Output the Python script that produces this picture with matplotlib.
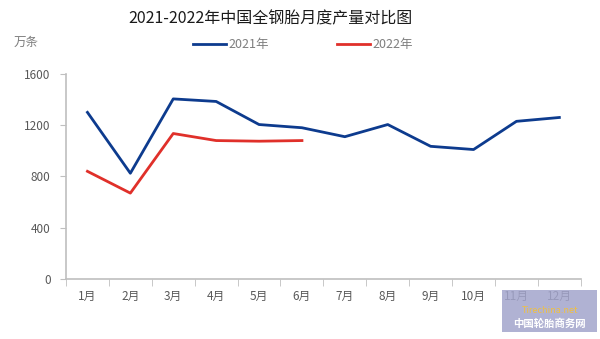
import matplotlib.pyplot as plt
from matplotlib.patches import Rectangle

plt.rcParams['font.family'] = ['Noto Sans CJK SC', 'DejaVu Sans']

months = ['1月', '2月', '3月', '4月', '5月', '6月', '7月', '8月', '9月', '10月', '11月', '12月']
prod_2021 = [1300, 825, 1405, 1385, 1205, 1180, 1110, 1205, 1035, 1010, 1230, 1260]
prod_2022 = [840, 670, 1135, 1080, 1075, 1080]

gray = '#7f7f7f'
fig = plt.figure(figsize=(6, 3.39), dpi=100)
ax = fig.add_axes([0.11, 0.177, 0.858, 0.605])

x = list(range(len(months)))
ax.plot(x, prod_2021, color='#0d3b8e', lw=2, label='2021年')
ax.plot(x[:len(prod_2022)], prod_2022, color='#e0302a', lw=2, label='2022年')

ax.set_xlim(-0.5, len(months) - 0.5)
ax.set_ylim(0, 1600)
ax.set_yticks([0, 400, 800, 1200, 1600])
ax.set_xticks(x)
ax.set_xticklabels(months)
ax.set_xticks([i + 0.5 for i in range(-1, len(months))], minor=True)
ax.tick_params(axis='x', which='major', length=0, pad=8, labelsize=8.5, labelcolor='#595959')
ax.tick_params(axis='x', which='minor', length=5, color='#bfbfbf', direction='out')
ax.tick_params(axis='y', length=4, color='#bfbfbf', labelsize=8.5, labelcolor='#595959', pad=7)

for s in ['top', 'right']:
    ax.spines[s].set_visible(False)
for s in ['left', 'bottom']:
    ax.spines[s].set_color('#bfbfbf')
    ax.spines[s].set_linewidth(1.2)

fig.text(0.45, 0.945, '2021-2022年中国全钢胎月度产量对比图', ha='center', va='center', fontsize=11.5, color='#1a1a1a')
fig.text(0.023, 0.875, '万条', ha='left', va='center', fontsize=9, color=gray)
fig.legend(loc='center', bbox_to_anchor=(0.505, 0.868), ncol=2, frameon=False,
           fontsize=9, labelcolor=gray, handlelength=2.6, columnspacing=5.5, handletextpad=0.2)

# watermark
fig.patches.append(Rectangle((0.837, 0.02), 0.158, 0.125, transform=fig.transFigure,
                             facecolor='#a3a5cc', alpha=0.85, edgecolor='none'))
fig.text(0.916, 0.085, 'Tirechina.net', ha='center', va='center', fontsize=6.5, color='#f0c040', style='italic')
fig.text(0.916, 0.045, '中国轮胎商务网', ha='center', va='center', fontsize=7.5, color='white', weight='bold')

fig.savefig('out.png', dpi=100)
